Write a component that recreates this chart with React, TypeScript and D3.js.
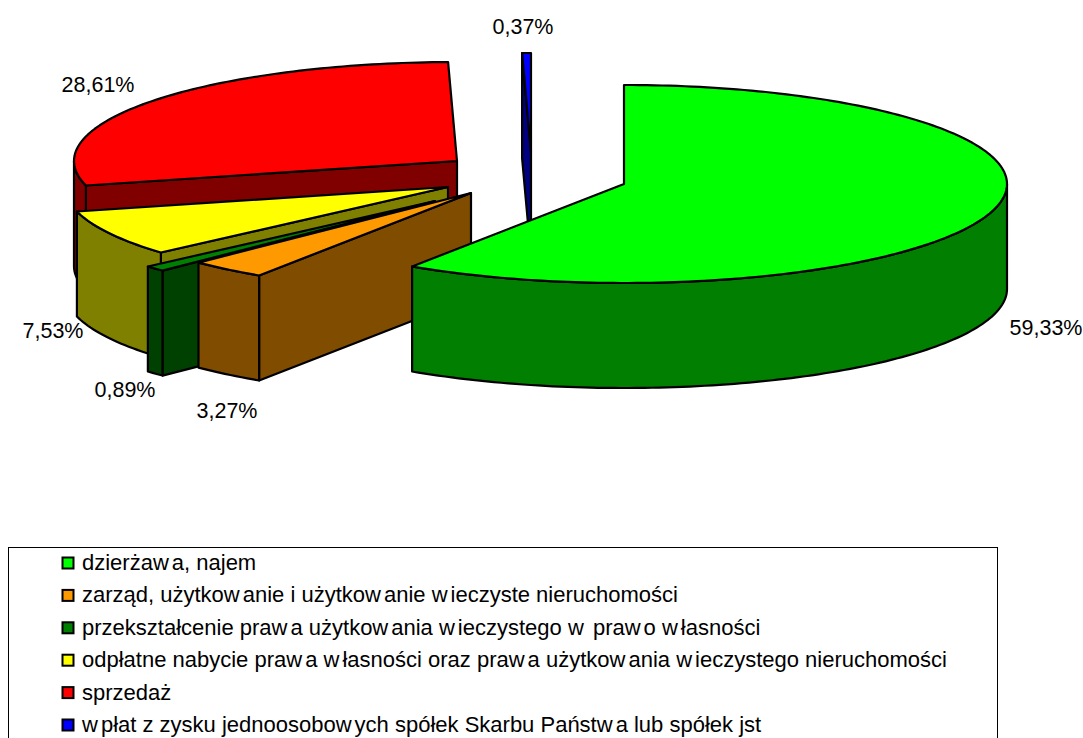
import * as d3 from "d3";

const categories = [
  "dzierżawa, najem",
  "zarząd, użytkowanie i użytkowanie wieczyste nieruchomości",
  "przekształcenie prawa użytkowania wieczystego w prawo własności",
  "odpłatne nabycie prawa własności oraz prawa użytkowania wieczystego nieruchomości",
  "sprzedaż",
  "wpłat z zysku jednoosobowych spółek Skarbu Państwa lub spółek jst",
];
const shares = [59.33, 3.27, 0.89, 7.53, 28.61, 0.37];
const topColors = ["#00ff00", "#ff9900", "#008000", "#ffff00", "#ff0000", "#0000ff"];
const wallColors = ["#007f00", "#804c00", "#004000", "#808000", "#800000", "#000080"];

const centers: [number, number][] = [
  [624, 184],
  [471, 193],
  [435, 201],
  [448, 187],
  [457, 161],
  [531, 152],
];
const labelPos: [number, number][] = [
  [1046, 335],
  [227, 418],
  [125, 397],
  [53, 338],
  [98, 92],
  [523, 34],
];
// back to front
const drawOrder = [4, 5, 3, 2, 1, 0];

const W = 1083;
const H = 738;
const rx = 383;
const ry = 99;
const depth = 105;
const TAU = Math.PI * 2;

const pct = d3.formatLocale({
  decimal: ",",
  thousands: " ",
  grouping: [3],
  currency: ["", ""],
}).format(".2f");

const arcs = d3.pie<number>().sort(null).startAngle(0).endAngle(TAU)(shares);

const project = (c: [number, number], a: number, dy = 0): [number, number] => [
  c[0] + rx * Math.sin(a),
  c[1] - ry * Math.cos(a) + dy,
];

const line = d3.line();

const sweep = (c: [number, number], a0: number, a1: number, dy = 0) => {
  const n = Math.max(2, Math.ceil((a1 - a0) / 0.02));
  return d3.range(n + 1).map((i) => project(c, a0 + ((a1 - a0) * i) / n, dy));
};

const Slice = ({ i }: { i: number }) => {
  const { startAngle: a0, endAngle: a1 } = arcs[i];
  const c = centers[i];
  const lo = Math.max(a0, Math.PI / 2);
  const hi = Math.min(a1, (Math.PI * 3) / 2);
  const startP = project(c, a0);
  const shared = { stroke: "#000", strokeWidth: 2.2, strokeLinejoin: "round" as const };
  return (
    <g>
      {Math.sin(a0) < 0 && (
        <path
          {...shared}
          fill={wallColors[i]}
          d={line([c, startP, [startP[0], startP[1] + depth], [c[0], c[1] + depth]]) + "Z"}
        />
      )}
      {lo < hi && (
        <path
          {...shared}
          fill={wallColors[i]}
          d={line([...sweep(c, lo, hi), ...sweep(c, lo, hi, depth).reverse()]) + "Z"}
        />
      )}
      <path {...shared} fill={topColors[i]} d={line([c, ...sweep(c, a0, a1)]) + "Z"} />
    </g>
  );
};

// the source renders a small gap after each "w"
const LegendText = ({ text, x, y }: { text: string; x: number; y: number }) => {
  const parts = text.split(/(?<=w)/);
  return (
    <text x={x} y={y} fontSize={22} fill="#000">
      {parts.map((p, k) => (
        <tspan key={k} dx={k ? 3 : 0}>
          {p}
        </tspan>
      ))}
    </text>
  );
};

export default function App() {
  const rowY = d3
    .scalePoint<string>()
    .domain(categories)
    .range([563, 725]);

  return (
    <svg
      width={W}
      height={H}
      viewBox={`0 0 ${W} ${H}`}
      style={{ position: "absolute", left: 0, top: 0, fontFamily: "'Liberation Sans', Arial, sans-serif" }}
    >
      <rect width={W} height={H} fill="#fff" />
      {drawOrder.map((i) => (
        <Slice key={i} i={i} />
      ))}
      {shares.map((v, i) => (
        <text key={i} x={labelPos[i][0]} y={labelPos[i][1]} fontSize={21.5} textAnchor="middle" fill="#000">
          {pct(v)}%
        </text>
      ))}
      <rect x={8.5} y={547.5} width={989} height={200} fill="none" stroke="#000" strokeWidth={1} />
      {categories.map((name, i) => {
        const y = rowY(name) as number;
        return (
          <g key={name}>
            <rect x={62.5} y={y - 5.5} width={11} height={11} fill={topColors[i]} stroke="#000" strokeWidth={2} />
            <LegendText text={name} x={82} y={y + 7} />
          </g>
        );
      })}
    </svg>
  );
}
